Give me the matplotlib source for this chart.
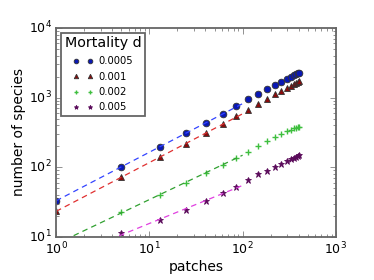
"""Species-area style plot: number of species vs patches, log-log, four mortality rates."""
import matplotlib

matplotlib.use("Agg")
import matplotlib.pyplot as plt
import numpy as np

patches = [1, 5, 13, 25, 41, 61, 85, 113, 145, 181, 221, 261, 297, 328, 354, 374, 390, 400]

# species counts, one list per mortality rate
sp_0005 = [33, 102, 198, 308, 428, 582, 750, 946, 1127, 1316, 1517, 1690, 1850, 1990,
           2090, 2170, 2230, 2275]
sp_001 = [23.4, 73, 139, 214, 308, 418, 540, 664, 810, 955, 1115, 1260, 1390, 1490,
          1570, 1640, 1690, 1730]
sp_002 = [7.8, 23, 40, 60, 84, 109, 136, 167, 202, 236, 275, 305, 330, 348, 362, 372,
          378, 382]
sp_005 = [4.4, 11.3, 17.5, 24.4, 32.5, 42.4, 52.7, 65.8, 79.4, 89, 102, 112, 122, 130,
          137, 142, 146, 149]

labels = ["0.0005", "0.001", "0.002", "0.005"]
series = [sp_0005, sp_001, sp_002, sp_005]
mk = [("o", "#0a18b4", 4.8), ("^", "#8b0b0b", 4.6), ("+", "#3fbf3f", 4.6), ("*", "#5a0a5a", 4.6)]
fit_col = ["#3344ff", "#e03030", "#30a030", "#e040e0"]

plt.style.use("classic")
fig = plt.figure(figsize=(3.74, 2.80), dpi=100)
ax = fig.add_axes([0.150, 0.154, 0.748, 0.746])

x = np.array(patches, dtype=float)
for ys, lab, (m, c, ms), fc in zip(series, labels, mk, fit_col):
    y = np.array(ys, dtype=float)
    ax.plot(x, y, ls="none", marker=m, color=c, mec=c if m in "+*" else "#333333",
            mew=0.6 if m != "+" else 1.0, ms=ms, label=lab)
    # power-law fit over the small-area range, drawn dashed
    sel = x <= 100
    b, a = np.polyfit(np.log10(x[sel]), np.log10(y[sel]), 1)
    xf = np.logspace(0, 2, 50)
    ax.plot(xf, 10 ** (a + b * np.log10(xf)), ls="--", color=fc, lw=0.9, dashes=(4, 3))

ax.set_xscale("log")
ax.set_yscale("log")
ax.set_xlim(1, 1000)
ax.set_ylim(10, 10000)
ax.set_xlabel("patches", fontsize=10, labelpad=2)
ax.set_ylabel("number of species", fontsize=10, labelpad=2)
ax.tick_params(labelsize=9, pad=3)
for s in ax.spines.values():
    s.set_color("#666666")
    s.set_linewidth(1.3)
ax.tick_params(which="both", color="#666666")

leg = ax.legend(loc="upper left", title="Mortality d", numpoints=2, fontsize=7.2,
                handlelength=2.0, handletextpad=0.6, borderpad=0.35, labelspacing=0.55,
                markerscale=0.7, fancybox=False)
leg.get_title().set_fontsize(10.3)
leg.get_frame().set_edgecolor("#666666")
leg.get_frame().set_linewidth(1.3)

fig.savefig("out.png", dpi=100)
